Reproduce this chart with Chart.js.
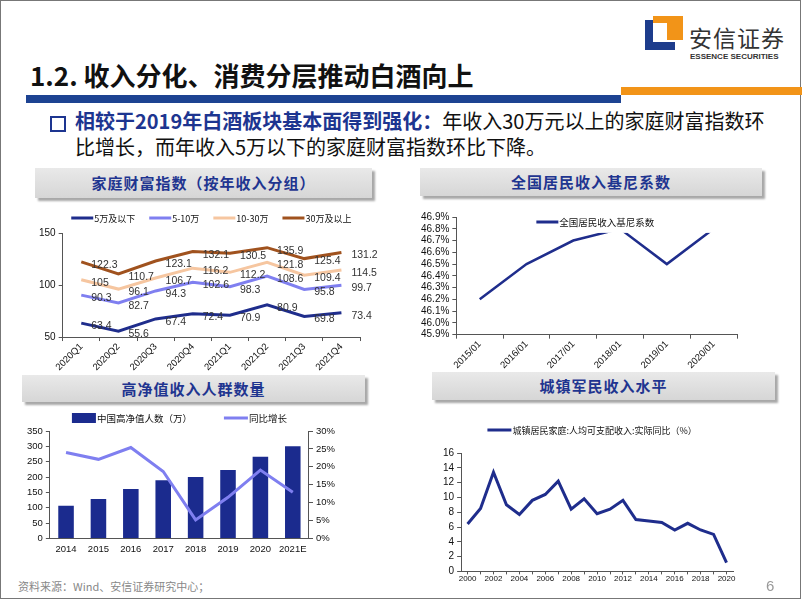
<!DOCTYPE html>
<html>
<head>
<meta charset="utf-8">
<script src="https://cdn.jsdelivr.net/npm/chart.js@4.4.1/dist/chart.umd.min.js"></script>
<style>
  html, body { margin: 0; padding: 0; background: #fff; }
  #slide { position: relative; width: 802px; height: 601px; overflow: hidden; font-family: "Noto Sans CJK SC", sans-serif; }
  #frame { position: absolute; left: 0; top: 0; width: 799px; height: 597px; border: 1.5px solid #777; }
  .abs { position: absolute; }
  .box { position: absolute; background: linear-gradient(#e9e9e9, #d6d6d6); box-shadow: 3px 3px 2px #a8a8a8;
         color: #1f3590; font-weight: 700; font-size: 15px; text-align: center; letter-spacing: 1px; }
  .wrap { position: absolute; }
</style>
</head>
<body>
<div id="slide">
  <div id="frame"></div>

  <!-- logo -->
  <div class="abs" style="left:645px;top:20px;width:16px;height:30px;background:#1d3c8c;"></div>
  <div class="abs" style="left:645px;top:42px;width:30px;height:8px;background:#1d3c8c;"></div>
  <div class="abs" style="left:667px;top:16px;width:16px;height:24px;background:#f29418;"></div>
  <div class="abs" style="left:653px;top:16px;width:30px;height:7px;background:#f29418;"></div>
  <div class="abs" style="left:653px;top:23px;width:14px;height:19px;background:#fff;"></div>
  <div class="abs" style="left:689px;top:20px;font-size:23px;color:#333;letter-spacing:1px;">安信证券</div>
  <div class="abs" style="left:690px;top:52px;font-size:8px;font-weight:700;color:#333;font-family:'Liberation Sans Narrow','Liberation Sans',sans-serif;">ESSENCE SECURITIES</div>

  <!-- title -->
  <div class="abs" style="left:30px;top:56px;font-size:26px;font-weight:700;color:#111;">1.2. 收入分化、消费分层推动白酒向上</div>
  <div class="abs" style="left:26px;top:95px;width:595px;height:8px;background:#1d4392;"></div>
  <div class="abs" style="left:621px;top:87px;width:181px;height:8px;background:#f29418;"></div>

  <!-- bullet text -->
  <div class="abs" style="left:50px;top:116px;width:12px;height:12px;border:2px solid #1d3590;"></div>
  <div class="abs" style="left:75px;top:108px;font-size:20px;line-height:26px;color:#111;width:700px;">
    <span style="color:#1d3590;font-weight:700;">相较于2019年白酒板块基本面得到强化：</span>年收入30万元以上的家庭财富指数环<br>比增长，而年收入5万以下的家庭财富指数环比下降。
  </div>

  <!-- title boxes -->
  <div class="box" style="left:35px;top:168px;width:337px;height:30px;line-height:30px;">家庭财富指数（按年收入分组）</div>
  <div class="box" style="left:420px;top:168px;width:342px;height:28px;line-height:28px;">全国居民收入基尼系数</div>
  <div class="box" style="left:22px;top:375px;width:343px;height:27px;line-height:27px;">高净值收入人群数量</div>
  <div class="box" style="left:432px;top:372px;width:343px;height:28px;line-height:28px;">城镇军民收入水平</div>

  <div class="wrap" style="left:36px;top:207px;width:364px;height:166px;"><canvas id="c1"></canvas></div>
  <div class="wrap" style="left:418px;top:208px;width:360px;height:163px;"><canvas id="c2"></canvas></div>
  <div class="wrap" style="left:24px;top:408px;width:314px;height:152px;"><canvas id="c3"></canvas></div>
  <div class="wrap" style="left:440px;top:420px;width:330px;height:164px;"><canvas id="c4"></canvas></div>

  <div class="abs" style="left:18px;top:578px;font-size:11px;color:#888;">资料来源：Wind、安信证券研究中心；</div>
  <div class="abs" style="left:766px;top:577px;font-size:15px;color:#999;font-family:'Liberation Sans',sans-serif;">6</div>
</div>

<script>
// chart 1: 家庭财富指数
const quarters = ['2020Q1', '2020Q2', '2020Q3', '2020Q4', '2021Q1', '2021Q2', '2021Q3', '2021Q4'];
const wealthBelow5 = [63.4, 55.6, 67.4, 72.4, 70.9, 80.9, 69.8, 73.4];
const wealth5to10 = [90.3, 82.7, 94.3, 102.6, 98.3, 108.6, 95.8, 99.7];
const wealth10to30 = [105, 96.1, 106.7, 116.2, 112.2, 121.8, 109.4, 114.5];
const wealthAbove30 = [122.3, 110.7, 123.1, 132.1, 130.5, 135.9, 125.4, 131.2];

// chart 2: 基尼系数
const giniYears = ['2015/01', '2016/01', '2017/01', '2018/01', '2019/01', '2020/01'];
const giniValues = [46.2, 46.5, 46.7, 46.8, 46.5, 46.8];

// chart 3: 高净值人群
const hnwYears = ['2014', '2015', '2016', '2017', '2018', '2019', '2020', '2021E'];
const hnwCount = [107, 129, 161, 190, 200, 223, 266, 300];
const hnwGrowth = [24.0, 22.1, 25.4, 18.7, 5.2, 11.5, 19.1, 12.9];

// chart 4: 城镇居民收入实际同比
const incomeYears = ['2000', '2001', '2002', '2003', '2004', '2005', '2006', '2007', '2008', '2009', '2010',
                     '2011', '2012', '2013', '2014', '2015', '2016', '2017', '2018', '2019', '2020'];
const incomeGrowth = [6.4, 8.5, 13.4, 9.0, 7.7, 9.6, 10.4, 12.2, 8.4, 9.8, 7.8,
                      8.4, 9.6, 7.0, 6.8, 6.6, 5.6, 6.5, 5.6, 5.0, 1.2];

const NAVY = '#1f2d8c';
const LAVENDER = '#7f7ff0';
const PEACH = '#f6c6a0';
const BROWN = '#a0521e';

Chart.defaults.font.family = '"Liberation Sans", "Noto Sans CJK SC", sans-serif';
Chart.defaults.color = '#111';
Chart.defaults.animation = false;
Chart.defaults.maintainAspectRatio = false;
Chart.defaults.elements.point.radius = 0;
Chart.defaults.plugins.tooltip.enabled = false;
Chart.defaults.plugins.legend.display = false;

const valueLabels = {
    id: 'valueLabels',
    afterDatasetsDraw(chart) {
        const ctx = chart.ctx;
        ctx.save();
        ctx.font = '10.5px "Liberation Sans", sans-serif';
        ctx.fillStyle = '#333';
        ctx.textBaseline = 'middle';
        chart.data.datasets.forEach((ds, i) => {
            chart.getDatasetMeta(i).data.forEach((pt, j) => {
                ctx.fillText(String(ds.data[j]), pt.x + 10, pt.y + 3);
            });
        });
        ctx.restore();
    }
};

// legend drawn by hand so the spacing can follow the original
function keyPlugin(opts) {
    return {
        id: 'key',
        afterDraw(chart) {
            const ctx = chart.ctx;
            const a = chart.chartArea;
            ctx.save();
            ctx.font = opts.font;
            ctx.textBaseline = 'middle';
            const items = chart.data.datasets.map((ds, i) => ({
                text: ds.label,
                bar: chart.getDatasetMeta(i).type === 'bar',
                color: chart.getDatasetMeta(i).type === 'bar' ? ds.backgroundColor : ds.borderColor
            }));
            const markW = opts.markW || 24;
            const widths = items.map(it => markW + 1 + ctx.measureText(it.text).width);
            const total = widths.reduce((s, w) => s + w, 0) + opts.gap * (items.length - 1);
            let x = (a.left + a.right) / 2 - total / 2 + (opts.dx || 0);
            const y = opts.y;
            items.forEach((it, i) => {
                if (it.bar) {
                    ctx.fillStyle = it.color;
                    ctx.fillRect(x, y - 5, markW, 10);
                } else {
                    ctx.strokeStyle = it.color;
                    ctx.lineWidth = 3;
                    ctx.beginPath();
                    ctx.moveTo(x, y);
                    ctx.lineTo(x + markW, y);
                    ctx.stroke();
                }
                ctx.fillStyle = '#111';
                ctx.fillText(it.text, x + markW + 1, y + 0.5);
                x += widths[i] + opts.gap;
            });
            ctx.restore();
        }
    };
}

function axisStyle(extra) {
    return Object.assign({
        grid: { display: true, drawOnChartArea: false, drawTicks: true, tickLength: 4, color: '#555' },
        border: { display: true, color: '#555', width: 1 },
        ticks: { font: { size: 10 }, color: '#111', padding: 3, autoSkip: false }
    }, extra);
}

new Chart(document.getElementById('c1'), {
    type: 'line',
    data: {
        labels: quarters,
        datasets: [
            { label: '5万及以下', data: wealthBelow5, borderColor: NAVY, borderWidth: 3 },
            { label: '5-10万', data: wealth5to10, borderColor: LAVENDER, borderWidth: 3 },
            { label: '10-30万', data: wealth10to30, borderColor: PEACH, borderWidth: 3 },
            { label: '30万及以上', data: wealthAbove30, borderColor: BROWN, borderWidth: 3 }
        ]
    },
    options: {
        layout: { padding: { left: 0, right: 40, top: 26, bottom: 0 } },
        scales: {
            x: axisStyle({ offset: true, grid: { display: true, drawOnChartArea: false, offset: true, tickLength: 4, color: '#555' },
                ticks: { font: { size: 9.5 }, color: '#111', maxRotation: 45, minRotation: 45, padding: 0, autoSkip: false } }),
            y: axisStyle({ min: 50, max: 150, ticks: { stepSize: 50, font: { size: 10 }, color: '#111', padding: 3, autoSkip: false } })
        }
    },
    plugins: [valueLabels, keyPlugin({ y: 11, gap: 14, markW: 22, font: '9px "Noto Sans CJK SC", sans-serif' })]
});

const giniLegend = {
    id: 'giniLegend',
    afterDatasetsDraw(chart) {
        const ctx = chart.ctx;
        const a = chart.chartArea;
        const yCut = chart.scales.y.getPixelForValue(46.765);
        ctx.save();
        ctx.fillStyle = '#fff';
        ctx.fillRect(a.left + 1, a.top - 2, a.right - a.left, yCut - a.top + 2);
        const lx = a.left + 80, ly = a.top + 5;
        ctx.strokeStyle = NAVY;
        ctx.lineWidth = 3;
        ctx.beginPath();
        ctx.moveTo(lx, ly);
        ctx.lineTo(lx + 22, ly);
        ctx.stroke();
        ctx.fillStyle = '#111';
        ctx.font = '9.5px "Noto Sans CJK SC", sans-serif';
        ctx.textBaseline = 'middle';
        ctx.fillText(chart.data.datasets[0].label, lx + 23, ly);
        ctx.restore();
    }
};

new Chart(document.getElementById('c2'), {
    type: 'line',
    data: {
        labels: giniYears,
        datasets: [{ label: '全国居民收入基尼系数', data: giniValues, borderColor: NAVY, borderWidth: 2.5 }]
    },
    options: {
        layout: { padding: { left: 0, right: 41, top: 7, bottom: 0 } },
        scales: {
            x: axisStyle({ offset: true, grid: { display: true, drawOnChartArea: false, offset: true, tickLength: 4, color: '#555' },
                ticks: { font: { size: 9.5 }, color: '#111', maxRotation: 45, minRotation: 45, padding: 0, autoSkip: false } }),
            y: axisStyle({ min: 45.9, max: 46.9,
                ticks: { stepSize: 0.1, font: { size: 10 }, color: '#111', padding: 3, autoSkip: false,
                    callback: v => v.toFixed(1) + '%' } })
        }
    },
    plugins: [giniLegend]
});

new Chart(document.getElementById('c3'), {
    data: {
        labels: hnwYears,
        datasets: [
            { type: 'bar', label: '中国高净值人数（万）', data: hnwCount, backgroundColor: '#1b2b8e',
              barPercentage: 0.48, categoryPercentage: 1, yAxisID: 'y', order: 2 },
            { type: 'line', label: '同比增长', data: hnwGrowth, borderColor: LAVENDER,
              borderWidth: 3, yAxisID: 'y1', order: 1 }
        ]
    },
    options: {
        layout: { padding: { left: 0, right: 0, top: 23, bottom: 0 } },
        scales: {
            x: axisStyle({ grid: { display: false, drawTicks: false },
                ticks: { font: { size: 9.5 }, color: '#111', padding: 5, maxRotation: 0, autoSkip: false } }),
            y: axisStyle({ min: 0, max: 350, ticks: { stepSize: 50, font: { size: 9.5 }, color: '#111', padding: 3, autoSkip: false } }),
            y1: axisStyle({ position: 'right', min: 0, max: 30,
                ticks: { stepSize: 5, font: { size: 9.5 }, color: '#111', padding: 3, autoSkip: false, callback: v => v + '%' } })
        }
    },
    plugins: [keyPlugin({ y: 10, gap: 32, font: '9.5px "Noto Sans CJK SC", sans-serif' })]
});

new Chart(document.getElementById('c4'), {
    type: 'line',
    data: {
        labels: incomeYears,
        datasets: [{ label: '城镇居民家庭:人均可支配收入:实际同比（%）', data: incomeGrowth, borderColor: NAVY, borderWidth: 3 }]
    },
    options: {
        layout: { padding: { left: 0, right: 37, top: 33, bottom: 0 } },
        scales: {
            x: axisStyle({ offset: true, grid: { display: true, drawOnChartArea: false, offset: false, tickLength: 3, color: '#555' },
                ticks: { font: { size: 8 }, color: '#111', autoSkip: false, maxRotation: 0, padding: 0,
                    callback: function (v, i) { return i % 2 === 0 ? this.getLabelForValue(v) : ''; } } }),
            y: axisStyle({ min: 0, max: 16, ticks: { stepSize: 2, font: { size: 10 }, color: '#111', padding: 3, autoSkip: false } })
        }
    },
    plugins: [keyPlugin({ y: 10, gap: 0, dx: -5, font: '9px "Noto Sans CJK SC", sans-serif' })]
});
</script>
</body>
</html>
